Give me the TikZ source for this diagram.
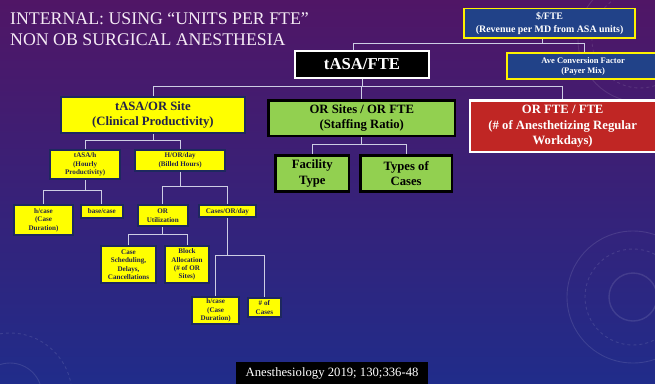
\documentclass[tikz,border=0pt]{standalone}
\usepackage{fontspec}
\setmainfont{Liberation Serif}
\usetikzlibrary{calc}

\definecolor{bgtop}{RGB}{80,22,102}
\definecolor{bgmid}{RGB}{56,34,122}
\definecolor{bgbot}{RGB}{32,44,138}
\definecolor{boxyellow}{RGB}{255,255,0}
\definecolor{navyline}{RGB}{30,40,95}
\definecolor{navytext}{RGB}{35,35,72}
\definecolor{okgreen}{RGB}{146,208,80}
\definecolor{alertred}{RGB}{192,38,36}
\definecolor{steelblue}{RGB}{33,66,136}
\definecolor{connline}{RGB}{205,205,228}

\tikzset{
  corner/.style={anchor=north west, inner sep=1pt, align=center},
  ybig/.style={corner, fill=boxyellow, draw=navyline, line width=2.2pt, text=navytext,
    font=\bfseries\fontsize{12.7}{15.2}\selectfont},
  ysmall/.style={corner, fill=boxyellow, draw=navyline, line width=2pt, text=navytext,
    font=\bfseries\fontsize{7.1}{8.4}\selectfont},
  gbox/.style={corner, fill=okgreen, draw=black, line width=2.6pt, text=black,
    font=\bfseries\fontsize{12.7}{15.2}\selectfont},
  rbox/.style={corner, fill=alertred, draw=white, line width=2.4pt, text=white,
    font=\bfseries\fontsize{12.7}{15.5}\selectfont},
  kbox/.style={corner, fill=black, draw=white, line width=2pt, text=white,
    font=\bfseries\fontsize{16.7}{20}\selectfont},
  bbox/.style={corner, fill=steelblue, draw=yellow, line width=1.4pt, text=white},
  conn/.style={draw=connline, line width=0.9pt},
  deco/.style={draw=white, opacity=0.11, line width=0.9pt},
}

\begin{document}
\begin{tikzpicture}[x=1pt,y=-1pt]
  % background
  \useasboundingbox (0,0) rectangle (655,383);
  \shade[top color=bgtop, middle color=bgmid, bottom color=bgbot] (0,0) rectangle (655,383);
  % faint ornamental rings
  \begin{scope}
    \clip (0,0) rectangle (655,383);
    \draw[deco, line width=1.4pt] (633,297) circle (24);
    \draw[deco, dashed] (633,297) circle (48);
    \draw[deco] (633,297) circle (66);
    \draw[deco] (640,40) circle (62);
    \draw[deco, dashed] (640,40) circle (48);
    \draw[deco] (10,395) circle (32);
    \draw[deco, dashed] (10,395) circle (62);
  \end{scope}

  % title
  \node[anchor=base west, inner sep=0pt, text=white!92!violet, font=\fontsize{17.8}{21}\selectfont]
    (title1) at (10,24) {INTERNAL: USING “UNITS PER FTE”};
  \node[anchor=base west, inner sep=0pt, text=white!92!violet, font=\fontsize{17.8}{21}\selectfont]
    (title2) at (10,45) {NON OB SURGICAL ANESTHESIA};

  % top level
  \node[bbox, minimum width=171pt, minimum height=29.4pt, font=\bfseries\fontsize{9.9}{12.7}\selectfont]
    (usd) at (463.4,8) {\$/FTE\\(Revenue per MD from ASA units)};
  \node[bbox, minimum width=152pt, minimum height=26pt, font=\bfseries\fontsize{8.5}{10.2}\selectfont]
    (ave) at (506.4,52.4) {Ave Conversion Factor\\(Payer Mix)};
  \node[kbox, minimum width=134pt, minimum height=26.7pt] (tasa) at (294,50) {tASA/FTE};

  % second level
  \node[ybig, minimum width=184.3pt, minimum height=35.7pt] (site) at (59.7,96)
    {tASA/OR Site\\(Clinical Productivity)};
  \node[gbox, minimum width=186.4pt, minimum height=35.4pt] (ratio) at (267.3,99.3)
    {OR Sites / OR FTE\\(Staffing Ratio)};
  \node[rbox, minimum width=186pt, minimum height=51.6pt] (red) at (468.5,99.2)
    {OR FTE / FTE\\(\# of Anesthetizing Regular\\Workdays)};

  % staffing ratio children
  \node[gbox, minimum width=73.4pt, minimum height=36.4pt] (fac) at (274.3,154)
    {Facility\\Type};
  \node[gbox, minimum width=91.7pt, minimum height=36.4pt] (types) at (359,154)
    {Types of\\Cases};

  % productivity branch
  \node[ysmall, minimum width=69.9pt, minimum height=29.8pt] (hourly) at (49.2,148.6)
    {tASA/h\\(Hourly\\Productivity)};
  \node[ysmall, minimum width=89.9pt, minimum height=21.2pt] (billed) at (134.2,148.6)
    {H/OR/day\\(Billed Hours)};
  \node[ysmall, minimum width=58.6pt, minimum height=29.9pt] (hcase) at (13.2,204.2)
    {h/case\\(Case\\Duration)};
  \node[ysmall, minimum width=41.9pt, minimum height=12.6pt] (base) at (79.9,204.2)
    {base/case};
  \node[ysmall, minimum width=49.7pt, minimum height=20.6pt] (util) at (136.9,204.2)
    {OR\\Utilization};
  \node[ysmall, minimum width=57.5pt, minimum height=12.2pt] (cases) at (197.6,204.2)
    {Cases/OR/day};
  \node[ysmall, minimum width=55.2pt, minimum height=36.6pt] (sched) at (99.9,245.2)
    {Case\\Scheduling,\\Delays,\\Cancellations};
  \node[ysmall, minimum width=44.8pt, minimum height=36.6pt] (block) at (163.6,245.2)
    {Block\\Allocation\\(\# of OR\\Sites)};
  \node[ysmall, minimum width=47.5pt, minimum height=27.2pt] (hcase2) at (190.9,295.9)
    {h/case\\(Case\\Duration)};
  \node[ysmall, minimum width=33.5pt, minimum height=19.5pt] (num) at (246.6,296.9)
    {\# of\\Cases};

  % citation
  \node[corner, fill=black, text=white, minimum width=191.7pt, minimum height=22pt,
    font=\fontsize{12.7}{15}\selectfont] (cite) at (236,362) {Anesthesiology 2019; 130;336-48};

  % connectors: revenue box to tASA/FTE and conversion factor
  \coordinate (usdfoot) at ($(usd.south)+(-7,0)$);
  \coordinate (tasahead) at ($(tasa.north)+(-9,0)$);
  \coordinate (avehead) at ($(ave.north)+(1,0)$);
  \draw[conn] (usd.south -| usdfoot) -- (usdfoot |- 0,43.3);
  \draw[conn] (tasahead) -- (tasahead |- 0,43.3) -- (avehead |- 0,43.3) -- (avehead);

  % tASA/FTE to its three factors
  \draw[conn] (tasa.south) -- (tasa.south |- 0,86);
  \draw[conn] (site.north) -- (site.north |- 0,86) -- (red.north |- 0,86) -- (red.north);
  \draw[conn] (ratio.north |- 0,86) -- (ratio.north);

  % staffing ratio split
  \draw[conn] (ratio.south) -- (ratio.south |- 0,144);
  \draw[conn] (fac.north) -- (fac.north |- 0,144) -- (types.north |- 0,144) -- (types.north);

  % productivity split
  \draw[conn] (site.south) -- (site.south |- 0,140.7);
  \draw[conn] (hourly.north) -- (hourly.north |- 0,140.7) -- (billed.north |- 0,140.7) -- (billed.north);

  \draw[conn] (hourly.south) -- (hourly.south |- 0,190.7);
  \draw[conn] (hcase.north) -- (hcase.north |- 0,190.7) -- (base.north |- 0,190.7) -- (base.north);

  \draw[conn] (billed.south) -- (billed.south |- 0,186);
  \draw[conn] (util.north) -- (util.north |- 0,186) -- (cases.north |- 0,186) -- (cases.north);

  \draw[conn] (util.south) -- (util.south |- 0,234.3);
  \draw[conn] (sched.north) -- (sched.north |- 0,234.3) -- (block.north |- 0,234.3) -- (block.north);

  \draw[conn] (cases.south) -- (cases.south |- 0,255);
  \draw[conn] (hcase2.north) -- (hcase2.north |- 0,255) -- (num.north |- 0,255) -- (num.north);
\end{tikzpicture}
\end{document}
